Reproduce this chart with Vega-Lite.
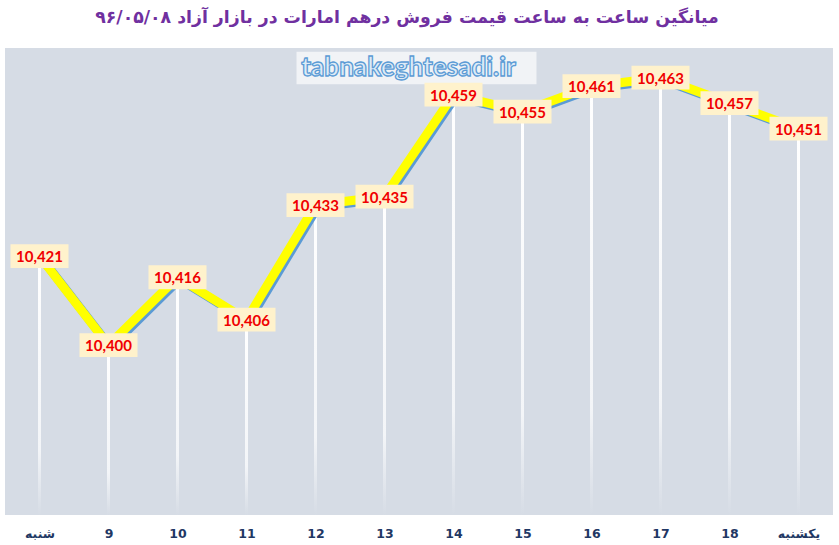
{
  "$schema": "https://vega.github.io/schema/vega-lite/v6.json",
  "width": 828,
  "height": 467,
  "autosize": {"type": "none"},
  "padding": {"left": 5, "top": 48, "right": 6, "bottom": 30},
  "background": "#ffffff",
  "title": {
    "text": "میانگین ساعت به ساعت قیمت فروش درهم امارات در بازار آزاد ۹۶/۰۵/۰۸",
    "font": "DejaVu Sans",
    "fontSize": 17.3,
    "fontWeight": "bold",
    "color": "#7030A0",
    "anchor": "middle",
    "dx": -12,
    "offset": 22
  },
  "datasets": {
    "rates": [
      {"day": "شنبه", "rate": 10421},
      {"day": "9", "rate": 10400},
      {"day": "10", "rate": 10416},
      {"day": "11", "rate": 10406},
      {"day": "12", "rate": 10433},
      {"day": "13", "rate": 10435},
      {"day": "14", "rate": 10459},
      {"day": "15", "rate": 10455},
      {"day": "16", "rate": 10461},
      {"day": "17", "rate": 10463},
      {"day": "18", "rate": 10457},
      {"day": "یکشنبه", "rate": 10451}
    ],
    "mark": [
      {"day": "13", "rate": 10465.3, "site": "tabnakeghtesadi.ir"}
    ]
  },
  "encoding": {
    "x": {
      "field": "day",
      "type": "ordinal",
      "sort": null,
      "scale": {"type": "point", "padding": 0.5},
      "axis": {
        "title": null,
        "labelAngle": 0,
        "domain": false,
        "ticks": false,
        "grid": false,
        "labelPadding": 12,
        "labelFont": "DejaVu Sans",
        "labelFontSize": 12.5,
        "labelFontWeight": "bold",
        "labelColor": "#1F3864"
      }
    },
    "y": {
      "field": "rate",
      "type": "quantitative",
      "scale": {"domain": [10360, 10470], "nice": false, "zero": false},
      "axis": null
    }
  },
  "layer": [
    {
      "data": {"name": "rates"},
      "mark": {
        "type": "bar",
        "width": 3,
        "fill": {
          "gradient": "linear",
          "x1": 0, "y1": 0, "x2": 0, "y2": 1,
          "stops": [
            {"offset": 0, "color": "#ffffff"},
            {"offset": 0.75, "color": "#f3f5f8"},
            {"offset": 1, "color": "#D6DCE5"}
          ]
        }
      },
      "encoding": {"y2": {"datum": 10360}}
    },
    {
      "data": {"name": "mark"},
      "mark": {"type": "point", "shape": "M-1,-0.135L1,-0.135L1,0.135L-1,0.135Z", "size": 57600, "filled": true, "fill": "#ffffff", "opacity": 0.65, "xOffset": 32}
    },
    {
      "data": {"name": "mark"},
      "mark": {"type": "text", "font": "Lato", "fontSize": 26, "fontWeight": 900, "fill": "#DDEBF7", "stroke": "#5B9BD5", "strokeWidth": 1.3, "xOffset": 24, "align": "center", "baseline": "middle"},
      "encoding": {"text": {"field": "site"}}
    },
    {
      "data": {"name": "rates"},
      "mark": {"type": "line", "stroke": "#5B9BD5", "strokeWidth": 9, "xOffset": 2, "yOffset": 2, "strokeJoin": "round"}
    },
    {
      "data": {"name": "rates"},
      "mark": {"type": "line", "stroke": "#FFFF00", "strokeWidth": 9, "strokeJoin": "round"}
    },
    {
      "data": {"name": "rates"},
      "mark": {"type": "point", "shape": "M-1,-0.41L1,-0.41L1,0.41L-1,0.41Z", "size": 3364, "filled": true, "fill": "#FFF2CC", "opacity": 1}
    },
    {
      "data": {"name": "rates"},
      "mark": {"type": "text", "font": "Lato", "fontSize": 15, "fontWeight": "bold", "color": "#F00000", "baseline": "middle", "dy": 1},
      "encoding": {"text": {"field": "rate", "type": "quantitative", "format": ","}}
    }
  ],
  "config": {
    "view": {"fill": "#D6DCE5", "stroke": null}
  }
}
